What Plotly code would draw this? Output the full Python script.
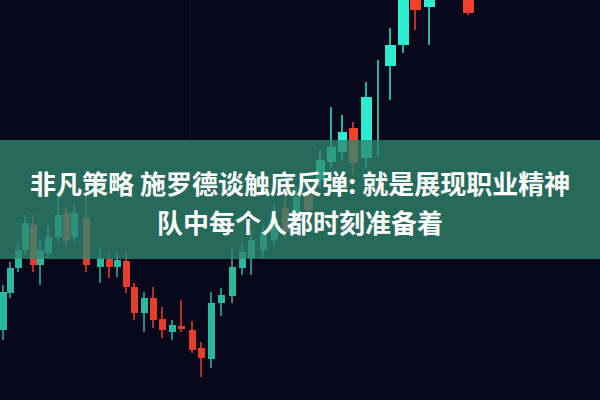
import plotly.graph_objects as go

# Candle positions (time axis) and OHLC prices
times = [3, 10, 18, 25, 33, 40, 48, 58, 66, 74, 86, 100, 109, 117, 126, 134, 144, 153, 162, 172,
         181, 192, 201, 211, 221, 232, 242, 251, 263, 274, 285, 296, 308, 320, 331, 342, 353, 366,
         378, 390, 403, 415, 429, 468]
open_ = [70, 107, 132, 150, 175, 135, 147, 163, 187, 163, 182, 133, 141, 133, 139, 113, 87, 102, 81, 68,
         74, 70, 52, 41, 97, 104, 132, 142, 150, 160, 192, 180, 205, 220, 238, 248, 272, 242,
         335, 334, 355, 405, 393, 405]
close = [108, 132, 150, 177, 135, 150, 163, 185, 160, 187, 135, 142, 133, 140, 113, 87, 102, 80, 70, 75,
         71, 50, 42, 97, 105, 133, 148, 160, 168, 182, 168, 203, 190, 240, 253, 268, 237, 303,
         335, 355, 405, 390, 407, 387]
high = [115, 138, 157, 185, 185, 160, 175, 203, 192, 195, 207, 152, 148, 148, 147, 117, 108, 113, 93, 80,
        100, 79, 58, 108, 112, 152, 157, 170, 175, 195, 210, 213, 215, 250, 293, 285, 278, 318,
        340, 372, 415, 415, 415, 415]
low = [60, 102, 128, 145, 128, 115, 142, 158, 154, 158, 128, 117, 122, 123, 107, 80, 68, 72, 62, 60,
       68, 47, 23, 32, 84, 97, 125, 125, 142, 154, 162, 174, 182, 212, 232, 240, 225, 232,
       243, 300, 347, 370, 355, 385]

bg = "#07071a"
up_bright, up_dim = "#2eecd0", "#2bb8a0"
dn_bright, dn_dim = "#f2402c", "#e63e2e"

body_base, body_h, colors, widths = [], [], [], []
wick_base, wick_h, wick_colors = [], [], []
for t, o, c, h, l in zip(times, open_, close, high, low):
    up = c >= o
    top = t >= 315
    col = (up_bright if top else up_dim) if up else (dn_bright if top else dn_dim)
    colors.append(col)
    body_base.append(o)
    body_h.append(c - o)
    widths.append(7 if t < 300 else (9 if t < 360 else 11))
    wick_base.append(l)
    wick_h.append(h - l)
    wick_colors.append(col)

fig = go.Figure()
fig.add_trace(go.Bar(x=times, y=wick_h, base=wick_base, width=1.6,
                     marker=dict(color=wick_colors, line=dict(width=0)), opacity=0.75,
                     hoverinfo="skip", showlegend=False))
fig.add_trace(go.Bar(x=times, y=body_h, base=body_base, width=widths,
                     marker=dict(color=colors, line=dict(width=0)),
                     hoverinfo="skip", showlegend=False))

fig.update_layout(
    width=600, height=400,
    margin=dict(l=0, r=0, t=0, b=0),
    paper_bgcolor=bg, plot_bgcolor=bg,
    barmode="overlay", bargap=0,
    xaxis=dict(range=[0, 600], visible=False, fixedrange=True),
    yaxis=dict(range=[0, 400], visible=False, fixedrange=True),
    shapes=[
        dict(type="line", xref="paper", yref="paper", x0=0.317, x1=0.317, y0=0.65, y1=1,
             line=dict(color="rgba(90,90,130,0.18)", width=1)),
        dict(type="rect", xref="paper", yref="paper", x0=0, x1=1, y0=0.3525, y1=0.65,
             fillcolor="rgba(48,134,110,0.78)", line=dict(width=0), layer="above"),
    ],
    annotations=[
        dict(text="非凡策略 施罗德谈触底反弹: 就是展现职业精神", xref="paper", yref="paper",
             x=0.5, y=1 - 182 / 400, showarrow=False, xanchor="center", yanchor="middle",
             font=dict(family="Noto Sans CJK SC", size=26, color="white", weight="bold")),
        dict(text="队中每个人都时刻准备着", xref="paper", yref="paper",
             x=0.5, y=1 - 221 / 400, showarrow=False, xanchor="center", yanchor="middle",
             font=dict(family="Noto Sans CJK SC", size=26, color="white", weight="bold")),
    ],
)

fig.write_html("out.html", config={"displayModeBar": False},
               post_script="document.body.style.margin='0';document.body.style.background='%s';" % bg)
